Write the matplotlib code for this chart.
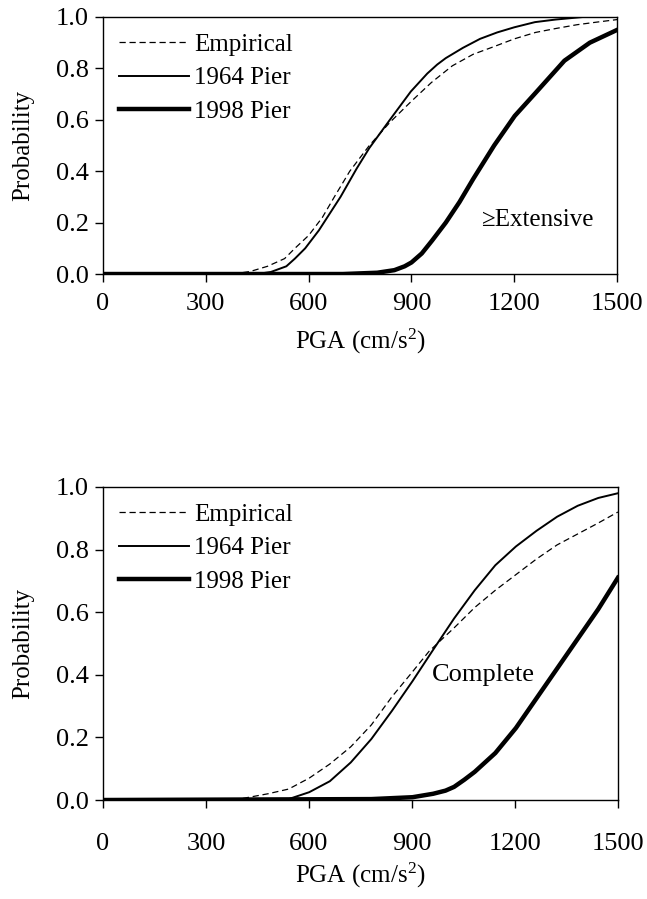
import matplotlib
matplotlib.use("Agg")
import matplotlib.pyplot as plt

plt.rcParams['font.family'] = ['Liberation Serif', 'DejaVu Serif']
plt.rcParams['mathtext.fontset'] = 'custom'
plt.rcParams['mathtext.rm'] = 'Liberation Serif'
plt.rcParams['mathtext.it'] = 'Liberation Serif:italic'

# >= Extensive
empExtX = [0, 380, 430, 480, 530, 560, 600, 640, 675, 720, 777, 837, 898, 958, 1019, 1080, 1141, 1200, 1262, 1320, 1383, 1440, 1500]
empExtP = [0, 0.0, 0.01, 0.03, 0.06, 0.10, 0.15, 0.22, 0.30, 0.40, 0.50, 0.59, 0.67, 0.745, 0.81, 0.855, 0.885, 0.915, 0.94, 0.955, 0.97, 0.98, 0.99]

p64ExtX = [0, 450, 490, 535, 560, 590, 630, 693, 740, 777, 837, 898, 946, 975, 1000, 1050, 1100, 1150, 1200, 1260, 1320, 1400, 1500]
p64ExtP = [0, 0, 0.008, 0.03, 0.06, 0.10, 0.17, 0.30, 0.41, 0.49, 0.60, 0.71, 0.78, 0.815, 0.84, 0.88, 0.915, 0.94, 0.96, 0.98, 0.99, 1.0, 1.0]

p98ExtX = [0, 700, 800, 850, 880, 900, 930, 960, 1000, 1040, 1080, 1141, 1201, 1262, 1346, 1420, 1500]
p98ExtP = [0, 0, 0.005, 0.015, 0.03, 0.045, 0.08, 0.13, 0.20, 0.28, 0.37, 0.50, 0.615, 0.705, 0.83, 0.90, 0.95]

# Complete
empComX = [0, 397, 481, 541, 601, 661, 722, 782, 842, 902, 950, 1023, 1083, 1143, 1203, 1263, 1323, 1383, 1443, 1500]
empComP = [0, 0.003, 0.02, 0.035, 0.07, 0.115, 0.17, 0.24, 0.33, 0.41, 0.475, 0.55, 0.615, 0.67, 0.72, 0.77, 0.815, 0.85, 0.885, 0.92]

p64ComX = [0, 500, 541, 601, 661, 722, 782, 842, 902, 962, 1023, 1083, 1143, 1203, 1263, 1323, 1383, 1443, 1500]
p64ComP = [0, 0, 0.003, 0.025, 0.06, 0.12, 0.195, 0.285, 0.38, 0.48, 0.58, 0.67, 0.75, 0.81, 0.86, 0.905, 0.94, 0.965, 0.98]

p98ComX = [0, 782, 902, 962, 998, 1023, 1053, 1083, 1113, 1143, 1173, 1203, 1263, 1323, 1383, 1443, 1500]
p98ComP = [0, 0.003, 0.009, 0.02, 0.03, 0.042, 0.065, 0.09, 0.12, 0.15, 0.19, 0.23, 0.325, 0.42, 0.515, 0.61, 0.71]

xTicks = [0, 300, 600, 900, 1200, 1500]
yTicks = [0.0, 0.2, 0.4, 0.6, 0.8, 1.0]


def plot_data(axis, curves, label, labelX, labelY, labelSize, pad):
    axis.plot(curves[0][0], curves[0][1], color='black', linestyle=(0, (5, 3)), linewidth=0.9, label='Empirical')
    axis.plot(curves[1][0], curves[1][1], color='black', linewidth=1.4, label='1964 Pier')
    axis.plot(curves[2][0], curves[2][1], color='black', linewidth=3.2, label='1998 Pier')
    axis.set_xlim(0, 1500)
    axis.set_ylim(0, 1.0)
    axis.set_xticks(xTicks)
    axis.set_yticks(yTicks)
    axis.set_yticklabels(['%.1f' % v for v in yTicks])
    axis.tick_params(direction='out', length=6, width=1, labelsize=19, top=False, right=False)
    axis.tick_params(axis='x', pad=pad)
    axis.tick_params(axis='y', pad=4)
    axis.set_ylabel('Probability', fontsize=18, labelpad=16)
    axis.set_xlabel(r'PGA (cm/s$^2$)', fontsize=18)
    axis.text(labelX, labelY, label, fontsize=labelSize, ha='center', va='center')
    axis.legend(loc='upper left', frameon=False, fontsize=18, handlelength=2.8,
                handletextpad=0.2, labelspacing=0.45, borderaxespad=0.3, borderpad=0.35,
                bbox_to_anchor=(0.0, 1.0))
    for s in axis.spines.values():
        s.set_linewidth(1.0)


fig = plt.figure(figsize=(6.47, 8.99), dpi=100)

axisTop = fig.add_axes([0.159, 0.6952, 0.795, 0.2859])
plot_data(axisTop, [(empExtX, empExtP), (p64ExtX, p64ExtP), (p98ExtX, p98ExtP)],
          '\u2265Extensive', 1268, 0.21, 18, 8)
axisTop.xaxis.labelpad = 8

axisBottom = fig.add_axes([0.159, 0.1101, 0.796, 0.3482])
plot_data(axisBottom, [(empComX, empComP), (p64ComX, p64ComP), (p98ComX, p98ComP)],
          'Complete', 1107, 0.40, 19, 18)
axisBottom.xaxis.labelpad = 4

fig.savefig('out.png', dpi=100)
